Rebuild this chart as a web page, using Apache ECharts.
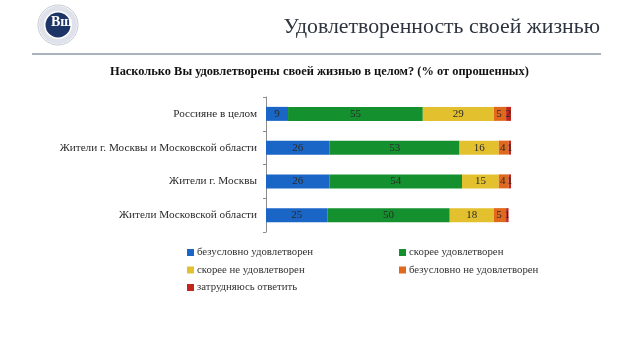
<!DOCTYPE html>
<html><head><meta charset="utf-8">
<script src="https://cdn.jsdelivr.net/npm/echarts@6/dist/echarts.min.js"></script>
<style>html,body{margin:0;padding:0;background:#fff}#c{width:640px;height:344px}</style>
</head><body><div id="c"></div>
<script>
var categories = ['Россияне в целом', 'Жители г. Москвы и Московской области', 'Жители г. Москвы', 'Жители Московской области'];
var seriesNames = ['безусловно удовлетворен', 'скорее удовлетворен', 'скорее не удовлетворен', 'безусловно не удовлетворен', 'затрудняюсь ответить'];
var s1 = [9, 26, 26, 25];
var s2 = [55, 53, 54, 50];
var s3 = [29, 16, 15, 18];
var s4 = [5, 4, 4, 5];
var s5 = [2, 1, 1, 1];
var colors = ['#1a66c6', '#14902e', '#e3c12e', '#e0691e', '#c1281b'];
var values = [s1, s2, s3, s4, s5];
var serif = 'Liberation Serif';

var chart = echarts.init(document.getElementById('c'));
var series = values.map(function (v, i) {
  return {
    name: seriesNames[i], type: 'bar', stack: 'a', data: v, barWidth: 14,
    itemStyle: { color: colors[i] },
    label: { show: true, position: 'inside', color: '#2a2a2a', fontFamily: serif, fontSize: 11, formatter: '{c}' }
  };
});
series[3].label.offset = [-1, 0];

chart.setOption({
  animation: false,
  color: colors,
  grid: { left: 266, top: 97, width: 245, height: 135, containLabel: false },
  xAxis: { type: 'value', min: 0, max: 100, show: false },
  yAxis: {
    type: 'category', data: categories, inverse: true,
    axisLine: { show: true, lineStyle: { color: '#8c8c8c', width: 1 } },
    axisTick: { show: true, length: 3, lineStyle: { color: '#8c8c8c' } },
    axisLabel: { color: '#2a2a2a', fontFamily: serif, fontSize: 11.2, margin: 9 }
  },
  legend: [
    { data: [seriesNames[0], seriesNames[2], seriesNames[4]], orient: 'vertical', left: 182, top: 242, itemWidth: 7, itemHeight: 7, itemGap: 6.5, icon: 'rect',
      textStyle: { fontFamily: serif, fontSize: 10.8, color: '#333', padding: [0, 0, 0, -2] } },
    { data: [seriesNames[1], seriesNames[3]], orient: 'vertical', left: 394, top: 242, itemWidth: 7, itemHeight: 7, itemGap: 6.5, icon: 'rect',
      textStyle: { fontFamily: serif, fontSize: 10.8, color: '#333', padding: [0, 0, 0, -2] } }
  ],
  graphic: [
    { type: 'circle', shape: { cx: 58, cy: 25, r: 20 }, style: { fill: '#fff', stroke: '#c5cad6', lineWidth: 1 } },
    { type: 'circle', shape: { cx: 58, cy: 25, r: 16.5 }, style: { fill: 'none', stroke: '#dfe2ea', lineWidth: 5 } },
    { type: 'circle', shape: { cx: 58, cy: 25, r: 12.5 }, style: { fill: '#1d3466' } },
    { type: 'text', left: 51, top: 15, style: { text: 'Вш', fill: '#fff', font: 'bold 14px "Liberation Serif"' } },
    { type: 'text', right: 40, top: 16, style: { text: 'Удовлетворенность своей жизнью', fill: '#2e3440', font: '21.8px "Liberation Serif"' } },
    { type: 'line', shape: { x1: 32, y1: 54, x2: 601, y2: 54 }, style: { stroke: '#8e9aa6', lineWidth: 1.5 } },
    { type: 'text', left: 110, top: 66, style: { text: 'Насколько Вы удовлетворены своей жизнью в целом? (% от опрошенных)', fill: '#111', font: 'bold 12.4px "Liberation Serif"' } }
  ],
  series: series
});
</script></body></html>
